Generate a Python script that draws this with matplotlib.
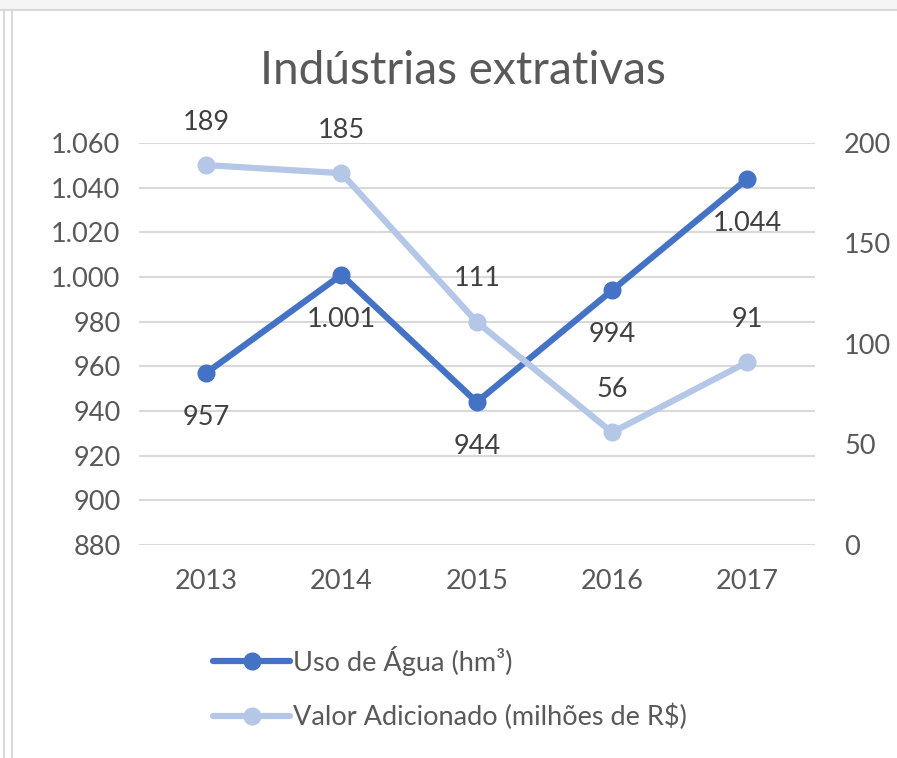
import matplotlib.pyplot as plt
from matplotlib.lines import Line2D
from matplotlib.patches import Rectangle
from matplotlib.ticker import FuncFormatter

# Data
anos = ['2013', '2014', '2015', '2016', '2017']
uso_agua = [957, 1001, 944, 994, 1044]
valor_adic = [189, 185, 111, 56, 91]
ticks_esq = [880, 900, 920, 940, 960, 980, 1000, 1020, 1040, 1060]
ticks_dir = [0, 50, 100, 150, 200]

plt.rcParams['font.family'] = ['Lato', 'DejaVu Sans']

azul = '#4472C4'
azul_claro = '#B4C7E7'
texto = '#595959'
rotulo = '#404040'
fs = 19.5

W, H = 897, 758
fig = plt.figure(figsize=(W / 100, H / 100), dpi=100)

# screenshot frame
fig.patches.append(Rectangle((0, 1 - 10 / H), 1, 10 / H, transform=fig.transFigure,
                             color='#F4F5F7', zorder=0))
fig.add_artist(Line2D([0, 1], [1 - 10 / H] * 2, transform=fig.transFigure, color='#D9D9D9', lw=1.5))
fig.add_artist(Line2D([4 / W] * 2, [0, 1 - 10 / H], transform=fig.transFigure, color='#D9D9D9', lw=1.5))
fig.add_artist(Line2D([12 / W] * 2, [0, 1 - 10 / H], transform=fig.transFigure, color='#D9D9D9', lw=1.5))

ax = fig.add_axes([138.5 / W, (H - 545) / H, 676.5 / W, 402 / H])
ax2 = ax.twinx()

x = list(range(len(anos)))
l1, = ax.plot(x, uso_agua, color=azul, lw=4.5, marker='o', ms=12, solid_capstyle='round')
l2, = ax2.plot(x, valor_adic, color=azul_claro, lw=4.5, marker='o', ms=12, solid_capstyle='round')

fmt = lambda v, p: f'{int(v):,}'.replace(',', '.')
for xi, v in zip(x, uso_agua):
    ax.annotate(fmt(v, None), (xi, v), xytext=(0, -32), textcoords='offset points',
                ha='center', va='center', fontsize=fs, color=rotulo)
for xi, v in zip(x, valor_adic):
    ax2.annotate(str(v), (xi, v), xytext=(0, 31), textcoords='offset points',
                 ha='center', va='center', fontsize=fs, color=rotulo)

ax.set_xlim(-0.5, len(anos) - 0.5)
ax.set_ylim(880, 1060)
ax2.set_ylim(0, 200)
ax.set_yticks(ticks_esq)
ax2.set_yticks(ticks_dir)
ax.yaxis.set_major_formatter(FuncFormatter(fmt))
ax.set_xticks(x)
ax.set_xticklabels(anos)

ax.grid(axis='y', color='#D9D9D9', lw=1.5)
ax.set_axisbelow(True)
for a in (ax, ax2):
    for s in a.spines.values():
        s.set_visible(False)
ax.tick_params(axis='both', length=0, labelsize=fs, labelcolor=texto)
ax.tick_params(axis='y', pad=13)
ax.tick_params(axis='x', pad=17)
ax2.tick_params(axis='y', length=0, labelsize=fs, labelcolor=texto, pad=21)

fig.text(463 / W, 1 - 71 / H, 'Indústrias extrativas', ha='center', va='center',
         fontsize=33, color=texto)

fig.legend([l1, l2], ['Uso de Água (hm³)', 'Valor Adicionado (milhões de R$)'],
           loc='center left', bbox_to_anchor=(213 / W, 1 - 688 / H), frameon=False,
           fontsize=fs, labelcolor=texto, handlelength=2.85, handletextpad=0.12,
           labelspacing=1.05, borderpad=0, borderaxespad=0)

fig.savefig('out.png', dpi=100)
